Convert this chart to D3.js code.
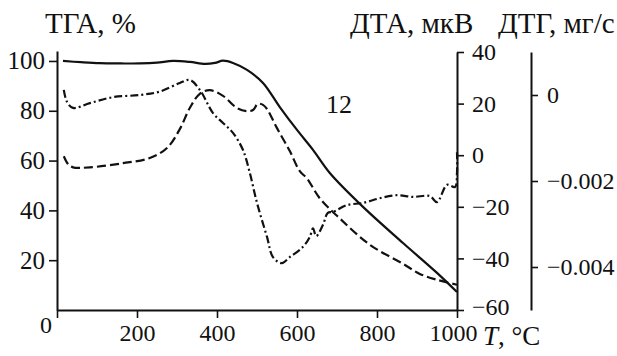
<!DOCTYPE html>
<html><head><meta charset="utf-8">
<script src="https://cdn.jsdelivr.net/npm/d3@7"></script>
</head>
<body style="margin:0;background:#fff"><svg id="c" width="617" height="356"></svg>
<script>
// TGA (solid), %
const tgaT = [15, 60, 107, 160, 207, 250, 290, 332, 370, 395, 415, 440, 475, 515, 557, 600, 640, 682, 765, 865, 950, 1000];
const tgaV = [100, 99.5, 99.1, 99.0, 99.0, 99.3, 100, 99.6, 98.8, 99.2, 100.1, 99.2, 96.4, 91.2, 81.5, 72.3, 64.3, 55.0, 41.4, 26.9, 14.9, 7.2];
// DTA (dashed), µV
const dtaT = [17, 28, 40, 82, 165, 232, 275, 307, 332, 357, 382, 415, 450, 475, 490, 502, 515, 525, 550, 582, 607, 625, 657, 707, 782, 865, 907, 950, 1000];
const dtaV = [-0.4, -3.5, -4.7, -4.7, -3.1, -1.1, 2.8, 10.1, 18.3, 23.8, 25.2, 23.0, 18.3, 17.1, 17.5, 19.9, 19.5, 17.9, 10.5, 1.6, -6.2, -9.0, -16.7, -24.5, -34.7, -42.1, -46.0, -48.3, -50.2];
// DTG (dash-dot), mg/s
const dtgT = [17, 25, 40, 82, 140, 207, 257, 307, 332, 357, 390, 415, 440, 465, 482, 500, 525, 540, 562, 582, 615, 632, 640, 648, 665, 677, 690, 725, 765, 807, 850, 890, 932, 950, 975, 995, 1000, 1000];
const dtgV = [0.00012, -0.00016, -0.00030, -0.00019, -0.00005, 0, 0.00008, 0.00028, 0.00035, 0.00012, -0.00042, -0.00065, -0.00088, -0.00128, -0.00181, -0.00251, -0.00330, -0.00377, -0.00391, -0.00377, -0.00353, -0.00330, -0.00310, -0.00328, -0.00302, -0.00274, -0.00272, -0.00256, -0.00251, -0.00240, -0.00233, -0.00237, -0.00235, -0.00249, -0.00209, -0.00214, -0.00181, -0.00133];

const xTicks = [0, 200, 400, 600, 800, 1000];
const tgaTicks = [20, 40, 60, 80, 100];
const dtaTicks = [40, 20, 0, -20, -40, -60];
const dtgTicks = [0, -0.002, -0.004];

const FONT = '"Liberation Serif"';
const INK = "#111";
const svg = d3.select("#c");
const x = d3.scaleLinear().domain([0, 1000]).range([57, 457]);
const yT = d3.scaleLinear().domain([0, 104]).range([310, 51]);
const yA = d3.scaleLinear().domain([-60, 40]).range([310, 52]);
const yG = d3.scaleLinear().domain([-0.005, 0.001]).range([310, 52]);
const minus = s => s.replace("-", "\u2212");

function styleAxis(g, fs) {
  g.attr("font-family", null).attr("font-size", null);
  g.select(".domain").attr("stroke", INK).attr("stroke-width", 2);
  g.selectAll(".tick line").attr("stroke", INK).attr("stroke-width", 1.6);
  g.selectAll(".tick text").style("font-family", FONT).style("font-size", fs + "px").attr("fill", INK);
}
function label(xp, yp, fs, txt, anchor) {
  return svg.append("text").attr("x", xp).attr("y", yp).attr("text-anchor", anchor || "start")
    .style("font-family", FONT).style("font-size", fs + "px").attr("fill", INK).text(txt);
}

// x axis
const gx = svg.append("g").attr("transform", "translate(0,310)")
  .call(d3.axisBottom(x).tickValues(xTicks).tickSize(8).tickSizeOuter(0).tickPadding(6).tickFormat(d => d === 0 ? "" : d));
styleAxis(gx, 24);
gx.selectAll(".tick text").filter(d => d === 1000).attr("dx", -4);
label(46, 333, 24, "0", "middle");

// left axis TGA
const gl = svg.append("g").attr("transform", "translate(57,0)")
  .call(d3.axisLeft(yT).tickValues(tgaTicks).tickSize(8).tickSizeOuter(0).tickPadding(4));
styleAxis(gl, 25);

// DTA axis
const ga = svg.append("g").attr("transform", "translate(457,0)")
  .call(d3.axisRight(yA).tickValues(dtaTicks).tickSize(7).tickSizeOuter(0).tickPadding(8).tickFormat(d => minus(String(d))));
styleAxis(ga, 24);
ga.selectAll(".tick text").filter(d => d === -60).attr("dy", "0.2em");

// DTG axis
const gg = svg.append("g").attr("transform", "translate(531,0)")
  .call(d3.axisRight(yG).tickValues(dtgTicks).tickSize(7).tickSizeOuter(0).tickPadding(9).tickFormat(d => d === 0 ? "0" : minus(d3.format(".3f")(d))));
styleAxis(gg, 24);

// curves
const ln = (ys) => d3.line().x(d => x(d[0])).y(d => ys(d[1])).curve(d3.curveCatmullRom.alpha(0.5));
svg.append("path").datum(tgaT.map((t, i) => [t, tgaV[i]]))
  .attr("d", ln(yT)).attr("fill", "none").attr("stroke", INK).attr("stroke-width", 2.2);
svg.append("path").datum(dtaT.map((t, i) => [t, dtaV[i]]))
  .attr("d", ln(yA)).attr("fill", "none").attr("stroke", INK).attr("stroke-width", 2.2)
  .attr("stroke-dasharray", "9,4");
svg.append("path").datum(dtgT.map((t, i) => [t, dtgV[i]]))
  .attr("d", ln(yG)).attr("fill", "none").attr("stroke", INK).attr("stroke-width", 2.2)
  .attr("stroke-dasharray", "8,3,2,3");

// titles
label(45, 33, 29, "ТГА, %");
label(350, 33, 29, "ДТА, мкВ");
label(498, 33, 29, "ДТГ, мг/с");
label(326, 113, 26, "12");
const tl = label(483, 345, 27, "");
tl.append("tspan").attr("font-style", "italic").text("T");
tl.append("tspan").text(", °C");
</script></body></html>
